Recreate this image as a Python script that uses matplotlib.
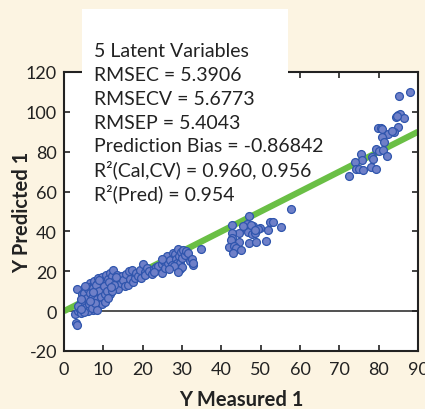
import matplotlib
matplotlib.use("Agg")
import matplotlib.pyplot as plt
from matplotlib.patches import Rectangle

plt.rcParams['font.family'] = ['Lato', 'DejaVu Sans']
plt.rcParams['axes.unicode_minus'] = False

# measured / predicted pairs
low_x = [3.3, 3.0, 3.2, 2.8, 3.6, 3.9, 4.2, 4.5, 4.0, 4.8, 5.0, 5.2, 5.6, 5.4, 5.8, 6.0, 6.2, 6.3,
         6.6, 6.5, 6.8, 6.9, 7.0, 7.2, 7.4, 7.5, 7.7, 7.6, 7.9, 8.0, 8.1, 8.3, 8.5, 8.7, 8.6, 8.8,
         9.0, 9.2, 9.3, 9.5, 9.6, 9.8, 10.0, 10.2, 10.4, 10.7, 10.8, 10.9, 11.2, 11.4, 11.7, 11.8,
         12.0, 12.3, 12.5, 12.6, 13.0, 13.3, 13.5, 13.8, 14.1, 14.4, 14.7, 15.0, 15.5, 15.8, 16.2,
         16.4, 4.6, 5.1, 5.5, 5.9, 6.1, 6.4, 6.7, 7.1, 7.3, 7.8, 8.2, 8.4, 8.9, 9.4, 9.7, 10.1,
         10.5, 11.0, 11.5, 12.2, 12.8, 13.2, 3.5, 4.3, 5.3, 6.0, 7.0, 8.0, 8.5, 5.0, 4.4, 6.6,
         7.4, 9.0, 10.3, 11.3, 12.0]
low_y = [11.3, -5.7, -7.0, -1.5, 0.2, 1.5, -0.8, 8.5, 3.5, 2.0, 5.5, 0.5, 11.8, 7.8, 3.0, 9.5, 1.0, 5.8,
         14.3, 12.0, 7.0, 2.5, 10.5, 4.5, 0.5, 13.0, 15.2, 8.0, 6.0, 11.5, 2.0, 9.0, 13.8, 16.5, 4.8, 7.5,
         11.0, 5.2, 14.5, 9.5, 17.2, 12.0, 6.5, 15.0, 10.0, 18.2, 7.7, 13.0, 16.0, 11.0, 19.3, 8.5,
         14.0, 17.5, 20.7, 11.8, 15.5, 13.0, 18.0, 11.0, 16.5, 14.0, 17.7, 15.5, 12.7, 18.5, 13.0,
         20.2, 4.0, 9.0, 2.2, 6.5, 11.0, 3.5, 9.0, 6.5, 11.8, 2.5, 13.0, 6.0, 10.0, 7.0, 3.5, 12.5,
         8.5, 10.0, 14.5, 10.0, 13.0, 17.0, 2.5, 6.0, 12.5, 0.3, 1.5, 4.0, 0.8, -0.5, 1.0, 5.0,
         9.8, 15.5, 4.5, 6.5, 12.0]

band_x = [16.8, 17.2, 17.5, 18.0, 18.3, 18.8, 19.2, 19.7, 20.2, 20.5, 20.6, 21.0, 21.5, 22.3, 22.8,
          23.5, 24.0, 24.8, 24.8, 25.3, 25.8, 26.1, 26.5, 27.0, 27.5, 27.8, 28.2, 28.5, 28.8, 29.0,
          29.3, 29.5, 29.5, 29.8, 30.0, 30.3, 30.7, 31.0, 31.5, 32.0, 32.5, 32.7, 32.9, 34.8, 28.0,
          26.8, 25.0, 23.0, 30.0, 29.0]
band_y = [16.0, 20.5, 14.5, 16.5, 19.0, 17.5, 20.5, 16.5, 23.5, 19.5, 18.0, 21.5, 20.0, 18.5, 21.0,
          22.0, 22.7, 23.5, 19.3, 25.0, 21.5, 27.7, 24.0, 25.5, 23.0, 29.3, 28.5, 26.0, 24.0, 31.0,
          27.5, 24.3, 21.0, 29.5, 26.5, 30.5, 28.0, 30.0, 29.0, 25.2, 26.0, 23.2, 24.3, 31.0, 22.5,
          21.0, 26.0, 19.5, 22.0, 19.8]

mid_x = [57.8, 47.0, 42.6, 52.4, 53.1, 55.1, 46.4, 48.1, 47.3, 46.0, 49.8, 49.2, 51.9, 44.6, 42.6,
         46.9, 47.7, 48.6, 42.6, 42.4, 44.6, 47.1, 48.8, 51.4, 42.0, 43.2, 43.7, 44.9, 42.9, 45.5,
         47.5, 48.5]
mid_y = [51.5, 47.7, 43.2, 44.8, 44.8, 42.3, 43.8, 42.7, 41.8, 41.8, 41.5, 41.3, 40.5, 39.3, 39.0,
         39.8, 38.5, 39.0, 36.5, 35.7, 34.7, 34.0, 34.8, 35.0, 32.3, 32.7, 31.5, 30.5, 29.3, 42.5,
         43.0, 40.5]

high_x = [88.0, 85.2, 84.4, 85.0, 85.4, 86.4, 84.6, 84.8, 84.0, 79.8, 80.5, 80.9, 82.5, 80.8, 81.4,
          79.3, 80.1, 81.0, 82.2, 78.2, 78.5, 75.4, 75.7, 74.0, 74.2, 75.0, 76.1, 78.0, 79.3, 72.5,
          83.5]
high_y = [109.8, 108.0, 97.6, 98.5, 98.8, 96.8, 98.0, 92.2, 89.8, 92.0, 91.7, 91.3, 88.8, 87.3, 85.0,
          81.3, 80.2, 81.0, 77.7, 77.3, 76.5, 78.8, 76.0, 74.7, 71.3, 71.3, 70.7, 72.3, 71.3, 68.0,
          90.5]

measured = low_x + band_x + mid_x + high_x
predicted = low_y + band_y + mid_y + high_y

stats_lines = ["5 Latent Variables",
               "RMSEC = 5.3906",
               "RMSECV = 5.6773",
               "RMSEP = 5.4043",
               "Prediction Bias = -0.86842",
               "R\u00b2(Cal,CV) = 0.960, 0.956",
               "R\u00b2(Pred) = 0.954"]

W, H = 425, 410
fig = plt.figure(figsize=(W / 100, H / 100), dpi=100, facecolor='#fcf4e2')
ax = fig.add_axes([64 / W, 1 - 352 / H, (418 - 64) / W, (352 - 73) / H])

ax.plot([0, 90], [0, 90], color='#6abf45', lw=4.5, solid_capstyle='butt', zorder=2)
ax.axhline(0, color='#222222', lw=1.1, zorder=1)
ax.scatter(measured, predicted, s=32, c='#6f80c8', edgecolors='#2f55ad', linewidths=0.9, zorder=3)

ax.set_xlim(0, 90)
ax.set_ylim(-20, 120)
ax.set_xticks(range(0, 91, 10))
ax.set_yticks(range(-20, 121, 20))
ax.tick_params(direction='in', top=True, right=True, length=4, width=1.2,
               labelsize=13, colors='#222222', pad=5)
ax.tick_params(axis='x', pad=7)
for s in ax.spines.values():
    s.set_linewidth(1.5)
    s.set_color('#222222')

ax.set_xlabel("Y Measured 1", fontsize=14.5, fontweight='bold', color='#222222')
ax.set_ylabel("Y Predicted 1", fontsize=14.5, fontweight='bold', color='#222222')
ax.xaxis.set_label_coords(0.5, -(390 - 352) / (352 - 73))
ax.yaxis.set_label_coords(-(64 - 32) / (418 - 64), 0.5)

# white box behind the stats text, sitting over the top spine
fig.patches.append(Rectangle((82 / W, 1 - 80 / H), 206 / W, 70 / H, transform=fig.transFigure,
                             facecolor='white', edgecolor='none', zorder=5))
for i, line in enumerate(stats_lines):
    fig.text(94 / W, 1 - (57.3 + i * 23.8) / H, line, fontsize=14, color='#222222',
             va='baseline', ha='left', zorder=6)

fig.savefig("out.png", dpi=100, facecolor=fig.get_facecolor())
